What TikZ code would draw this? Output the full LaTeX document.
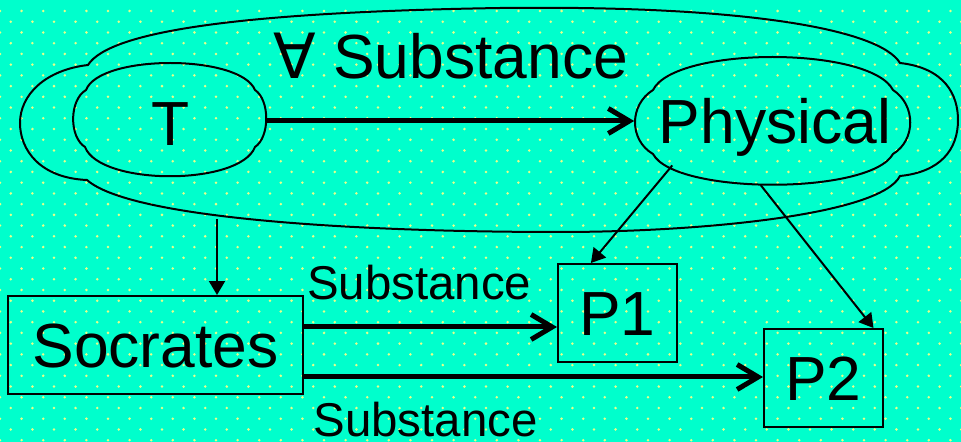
\documentclass[tikz,border=0pt]{standalone}
\usepackage{fontspec}
\setmainfont{Liberation Sans}
\newfontfamily\symfont{DejaVu Sans}
\usepackage{xcolor}
\definecolor{aqua}{HTML}{00FFCC}
\definecolor{dotyellow}{HTML}{E8FF8A}
\usepackage{tikz}
\usetikzlibrary{arrows.meta, positioning, shapes.geometric}

\begin{document}
\begin{tikzpicture}[
        x=0.02cm, y=-0.02cm,
        bigtxt/.style={font=\fontsize{35.5}{40}\selectfont, text height=25.4pt, text depth=0pt, inner sep=0pt},
        lbl/.style={font=\fontsize{27}{32}\selectfont, text height=19.3pt, text depth=0pt, inner sep=0pt},
        termbox/.style={bigtxt, draw, line width=0.04cm, minimum height=1.96cm},
        blob/.style={ellipse, inner sep=0pt},
        blobline/.style={line width=0.04cm},
        rel/.style={-{Triangle[length=0.28cm, width=0.32cm]}, line width=0.04cm},
        fat/.style={-{Straight Barb[length=0.42cm, width=0.5cm]}, line width=0.1cm}
    ]
        % Background with dots
        \useasboundingbox (0,0) rectangle (961,442);
        \fill[aqua] (0,0) rectangle (961,442);
        \foreach \r in {0,...,41} {
            \foreach \c in {0,...,44} {
                \fill[dotyellow] ({\c*21.6+mod(\r,2)*10.8}, {11+\r*10.73}) circle[radius=0.028cm];
            }
        }

        % Concepts
        \node[blob, minimum width=3.88cm, minimum height=2.26cm] (T) at (170,121) {};
        \node[bigtxt] (Ttxt) at (171,123) {T};
        \node[blob, minimum width=5.5cm, minimum height=2.56cm] (Phys) at (772,121) {};
        \node[bigtxt] (Phystxt) at (775,121) {Physical};

        % Individuals
        \node[termbox, minimum width=5.9cm] (Soc) at (155.5,345) {Socrates};
        \node[termbox, minimum width=2.38cm] (P1) at (617.5,313) {P1};
        \node[termbox, minimum width=2.38cm] (P2) at (823.5,378) {P2};

        % Outlines of the two concepts
        \draw[blobline] (86,90) .. controls (100,54) and (240,54) .. (255,90)
            .. controls (270,100) and (270,137) .. (255,147)
            .. controls (240,186) and (100,186) .. (85,147)
            .. controls (69,137) and (69,100) .. cycle;
        \draw[blobline] (653,90) .. controls (675,46) and (870,46) .. (893,90)
            .. controls (916,105) and (916,140) .. (893,154)
            .. controls (870,195) and (675,195) .. (653,154)
            .. controls (629,140) and (629,105) .. cycle;

        % Outer context
        \draw[blobline] (88,65) .. controls (110,30) and (250,12) .. (500,8)
            .. controls (750,5) and (880,30) .. (900,63)
            .. controls (945,68) and (958,95) .. (958,120)
            .. controls (958,150) and (940,172) .. (900,176)
            .. controls (880,215) and (700,232) .. (560,232)
            .. controls (350,232) and (130,218) .. (87,180)
            .. controls (40,178) and (20,150) .. (20,123)
            .. controls (20,95) and (45,70) .. cycle;
        \coordinate (hub) at (217,219);
        \coordinate (r1) at (0,327);
        \coordinate (r2) at (0,377);

        % Relations
        \draw[fat] (T) -- node[bigtxt, above=0.8cm] {{\symfont ∀} Substance} (Phys);
        \draw[rel] (hub) -- (hub |- Soc.north);
        \draw[rel] (Phys.204) -- (P1.118);
        \draw[rel] (Phys.260) -- (P2.45);
        \draw[fat] (Soc.east |- r1) -- node[lbl, above=0.5cm, pos=0.455] {Substance} (P1.west |- r1);
        \draw[fat] (Soc.east |- r2) -- node[lbl, below=0.46cm, pos=0.265] {Substance} (P2.west |- r2);
    \end{tikzpicture}
\end{document}
